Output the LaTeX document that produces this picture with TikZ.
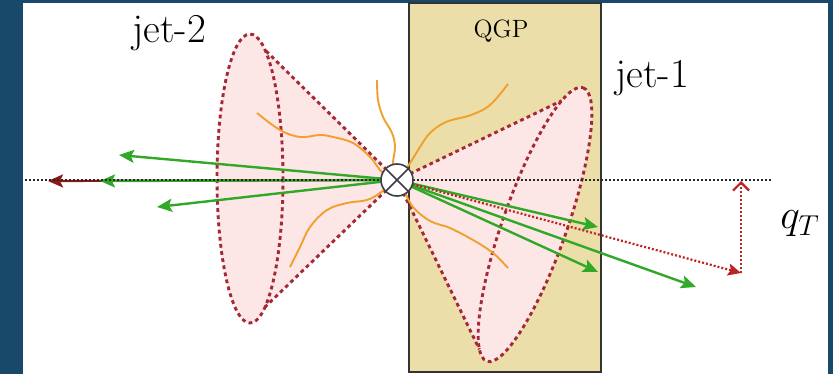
\documentclass[tikz,border=0pt]{standalone}
\usepackage{fontspec}
\usetikzlibrary{arrows.meta}
\definecolor{slate}{RGB}{25,73,106}
\definecolor{plasma}{RGB}{236,222,168}
\definecolor{conepink}{RGB}{252,230,230}
\definecolor{conered}{RGB}{165,40,55}
\definecolor{trackgreen}{RGB}{50,168,40}
\definecolor{gluon}{RGB}{240,160,45}
\definecolor{axisred}{RGB}{190,35,35}
\definecolor{darkred}{RGB}{140,25,25}
\definecolor{rim}{RGB}{60,62,72}

\begin{document}
\begin{tikzpicture}[x=0.5pt,y=-0.5pt,
  conedash/.style={draw=conered, line width=1.45pt, dash pattern=on 1.9pt off 1.7pt},
  track/.style={draw=trackgreen, line width=1.2pt, -{Stealth[length=7.5pt,width=6.5pt,inset=1.5pt]}},
  gluonline/.style={draw=gluon, line width=0.95pt},
  axisline/.style={draw=black!85, line width=1pt, dash pattern=on 1pt off 1pt},
  reddot/.style={draw=axisred, line width=1.1pt, dash pattern=on 1pt off 1pt},
  lbl/.style={font=\fontsize{20.5}{24}\selectfont, inner sep=0pt}]

% slide frame and white panel
\fill[slate] (0,0) rectangle (833,374);
\fill[white] (23,3) rectangle (828,374);
\useasboundingbox (0,0) rectangle (833,374);

% QGP medium
\fill[plasma] (409,3) rectangle (601,372);

% interaction point
\coordinate (o) at (397,180);

% jet-2 cone
\coordinate (j2c) at (250,178.5);
\coordinate (j2t) at (265,50);
\coordinate (j2b) at (265,307);
\fill[conepink] (o) -- (j2t) -- (j2b) -- cycle;
\fill[conepink] (j2c) ellipse [x radius=33, y radius=144.5];

% jet-1 cone (tilted)
\begin{scope}[shift={(535,224.5)}, rotate=70.6]
  \coordinate (j1c) at (0,0);
  \coordinate (j1t) at (-30:145 and 32);
  \coordinate (j1b) at (-160:145 and 32);
  \fill[conepink] (0,0) ellipse [x radius=145, y radius=32];
\end{scope}
\fill[conepink] (o) -- (j1t) -- (j1b) -- cycle;

% QGP border
\draw[black!80, line width=0.7pt] (409,3) rectangle (601,372);

% cone outlines
\draw[conedash] (j2c) ellipse [x radius=33, y radius=144.5];
\draw[conedash] (o) -- (j2t);
\draw[conedash] (o) -- (j2b);
\begin{scope}[shift={(535,224.5)}, rotate=70.6]
  \draw[conedash] (0,0) ellipse [x radius=145, y radius=32];
\end{scope}
\draw[conedash] (o) -- (j1t);
\draw[conedash] (o) -- (j1b);

% soft gluon radiation
\draw[gluonline] plot[smooth, tension=0.6] coordinates
  {(257,113) (280,130) (300,137) (320,135) (333,137) (353,143) (370,157) (380,170) (389,178)};
\draw[gluonline] plot[smooth, tension=0.6] coordinates
  {(290,267) (300,247) (310,227) (327,210) (347,203) (367,200) (380,193) (389,185)};
\draw[gluonline] plot[smooth, tension=0.6] coordinates
  {(377,80) (378,100) (383,117) (392,133) (395,147) (393,163) (396,172)};
\draw[gluonline] plot[smooth, tension=0.6] coordinates
  {(508,84) (490,105) (471,115) (446,122) (430,133) (420,147) (412,160) (404,172)};
\draw[gluonline] plot[smooth, tension=0.6] coordinates
  {(508,268) (493,253) (473,240) (450,228) (430,221) (413,207) (404,190)};

% leading parton of jet-2
\coordinate (r2) at (48,181);
\draw[darkred, line width=1.1pt, -{Stealth[length=7.5pt,width=6.5pt,inset=1.5pt]}] (o) -- (r2);

% charged tracks
\coordinate (g1) at (119,155);
\coordinate (g2) at (100,181);
\coordinate (g3) at (157,207);
\coordinate (g4) at (598,227);
\coordinate (g5) at (598,272);
\coordinate (g6) at (696,287);
\draw[track] (o) -- (g1);
\draw[track] (o) -- (g2);
\draw[track] (o) -- (g3);
\draw[track] (o) -- (g4);
\draw[track] (o) -- (g5);
\draw[track] (o) -- (g6);

% jet-1 axis
\coordinate (r1) at (741,273);
\draw[reddot, -{Stealth[length=6.5pt,width=6pt,inset=1.2pt]}] (o) -- (r1);

% beam-transverse axis
\coordinate (axl) at (25,180);
\coordinate (axr) at (771,180);
\draw[axisline] (axl) -- (axr);

% momentum imbalance
\coordinate (qtop) at (741,181);
\draw[reddot, -{Straight Barb[length=4pt,width=8pt,line width=1.1pt]}] (r1) -- (qtop);

% vertex symbol
\node[circle, draw=rim, fill=white, line width=0.8pt, minimum size=16pt, inner sep=0pt] (vtx) at (o) {};
\draw[rim, line width=0.8pt] (vtx.north west) -- (vtx.south east);
\draw[rim, line width=0.8pt] (vtx.north east) -- (vtx.south west);

% labels
\node[lbl] (jettwo) at (169,33.5) {jet-2};
\node[lbl] (jetone) at (652,78.5) {jet-1};
\node[lbl, font=\fontsize{12.5}{15}\selectfont] (qgp) at (501,31) {QGP};
\node[lbl] (qt) at (800,224) {$q_T$};
\end{tikzpicture}
\end{document}
